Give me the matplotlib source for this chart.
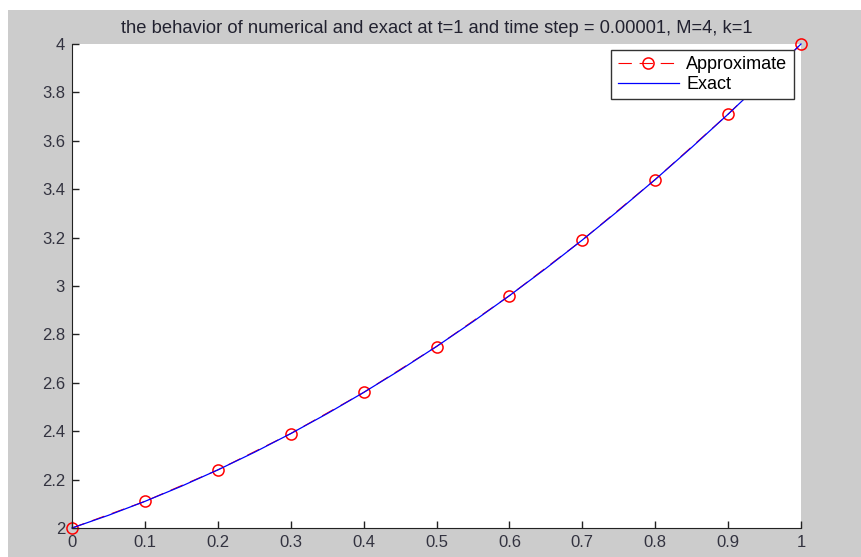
import matplotlib
matplotlib.use('Agg')
import matplotlib.pyplot as plt

plt.rcParams['font.family'] = ['Liberation Sans', 'DejaVu Sans']

# values
x_approx = [0.0, 0.1, 0.2, 0.3, 0.4, 0.5, 0.6, 0.7, 0.8, 0.9, 1.0]
y_approx = [2.0, 2.11, 2.24, 2.39, 2.56, 2.75, 2.96, 3.19, 3.44, 3.71, 4.0]

x_exact = [0.0, 0.05, 0.1, 0.15, 0.2, 0.25, 0.3, 0.35, 0.4, 0.45, 0.5,
           0.55, 0.6, 0.65, 0.7, 0.75, 0.8, 0.85, 0.9, 0.95, 1.0]
y_exact = [2.0, 2.0525, 2.11, 2.1725, 2.24, 2.3125, 2.39, 2.4725, 2.56, 2.6525, 2.75,
           2.8525, 2.96, 3.0725, 3.19, 3.3125, 3.44, 3.5725, 3.71, 3.8525, 4.0]

xticks = [0, 0.1, 0.2, 0.3, 0.4, 0.5, 0.6, 0.7, 0.8, 0.9, 1]
xticklabels = ['0', '0.1', '0.2', '0.3', '0.4', '0.5', '0.6', '0.7', '0.8', '0.9', '1']
yticks = [2, 2.2, 2.4, 2.6, 2.8, 3, 3.2, 3.4, 3.6, 3.8, 4]
yticklabels = ['2', '2.2', '2.4', '2.6', '2.8', '3', '3.2', '3.4', '3.6', '3.8', '4']

title = 'the behavior of numerical and exact at t=1 and time step = 0.00001, M=4, k=1'

fig = plt.figure(figsize=(8.61, 5.57), dpi=100)
fig.patch.set_facecolor('white')

# grey figure panel (matlab window background)
bg = fig.add_axes([8/861, 0, 1 - 8/861, 1 - 10/557])
bg.set_facecolor('#cccccc')
bg.set_xticks([])
bg.set_yticks([])
for s in bg.spines.values():
    s.set_visible(False)

ax = fig.add_axes([72/861, 1 - 528/557, (801 - 72)/861, (528 - 44)/557])
ax.set_facecolor('white')

ax.plot(x_approx, y_approx, '--o', color='red', markerfacecolor='none',
        markersize=8, linewidth=0.8, markeredgewidth=1.1, dashes=(12, 7),
        label='Approximate', clip_on=False)
ax.plot(x_exact, y_exact, '-', color='blue', linewidth=0.9, label='Exact', clip_on=False)

ax.set_xlim(0, 1)
ax.set_ylim(2, 4)
ax.set_xticks(xticks)
ax.set_xticklabels(xticklabels)
ax.set_yticks(yticks)
ax.set_yticklabels(yticklabels)
ax.tick_params(direction='in', length=5, width=1, labelsize=12, colors='#222222',
               labelcolor='#333340')
ax.tick_params(axis='x', pad=5)
ax.tick_params(axis='y', pad=5)
ax.spines['top'].set_visible(False)
ax.spines['right'].set_visible(False)
ax.spines['left'].set_color('#222222')
ax.spines['bottom'].set_color('#222222')

ax.set_title(title, fontsize=13.2, color='#222230', pad=8)

leg = ax.legend(loc='upper right', bbox_to_anchor=(0.99, 0.988), fontsize=13,
                fancybox=False, framealpha=1, edgecolor='#333333',
                handlelength=3.4, borderpad=0.35, labelspacing=0.15,
                handletextpad=0.4, borderaxespad=0)
leg.get_frame().set_linewidth(1.0)

fig.savefig('out.png', dpi=100, facecolor=fig.get_facecolor())
